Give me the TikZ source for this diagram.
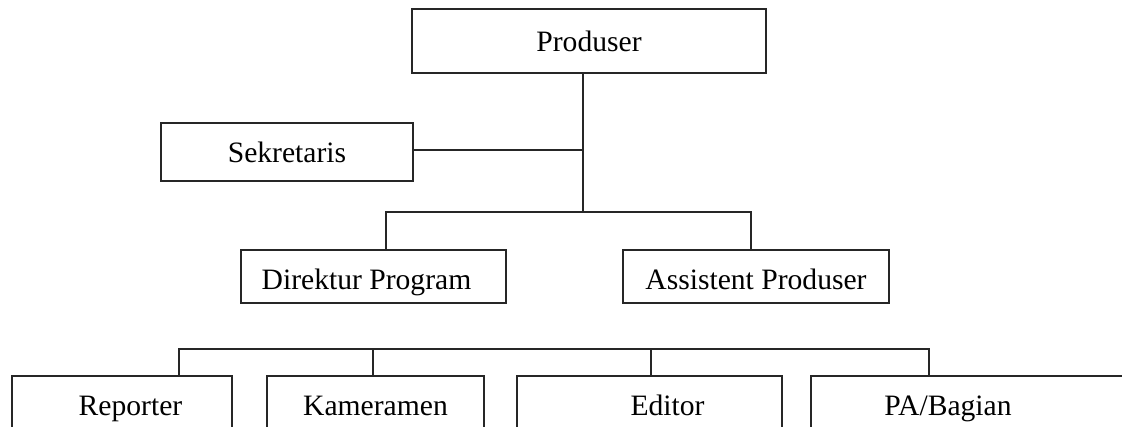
\documentclass[tikz,border=0pt]{standalone}
\usepackage{fontspec}
\setmainfont{Liberation Serif}
\usepackage{tikz}
\usetikzlibrary{calc}

\tikzset{
  jabatan/.style={draw=black!85, line width=0.9pt, inner sep=0pt, align=center, text depth=0pt, text height=#1},
  jabatan/.default=15pt,
  geser/.style={execute at begin node={\hspace*{#1}}},
  garis/.style={draw=black!85, line width=0.9pt}
}

\begin{document}
\begin{tikzpicture}[x=0.75pt, y=-0.75pt, font=\fontsize{22.2}{26}\selectfont]
            \useasboundingbox (0,0) rectangle (1122,426);
            \clip (0,0) rectangle (1122,426);
            \node[jabatan, minimum width=265.5pt, minimum height=48pt] (P) at (589,41) {Produser};
            \node[jabatan=16pt, minimum width=189pt, minimum height=43.5pt] (S) at (287,152) {Sekretaris};
            \node[jabatan=19pt, minimum width=198.75pt, minimum height=39.75pt, geser=-10.5pt] (D) at (373.5,276.5) {Direktur Program};
            \node[jabatan=19pt, minimum width=199.5pt, minimum height=39.75pt] (A) at (756,276.5) {Assistent Produser};
            \node[jabatan=11pt, minimum width=165pt, minimum height=48pt, geser=12.75pt] (R) at (122,408) {Reporter};
            \node[jabatan=11pt, minimum width=162.75pt, minimum height=48pt] (K) at (375.5,408) {Kameramen};
            \node[jabatan=11pt, minimum width=198.75pt, minimum height=48pt, geser=27pt] (E) at (649.5,408) {Editor};
            \node[jabatan=11pt, minimum width=247.5pt, minimum height=48pt, geser=-42pt] (B) at (976,408) {PA/Bagian};
            \coordinate (T1) at (583,150);
            \coordinate (T2) at (583,212);
            \coordinate (DJ) at (386,212);
            \coordinate (AJ) at (751,212);
            \coordinate (RJ) at (179,349);
            \coordinate (KJ) at (373,349);
            \coordinate (EJ) at (651,349);
            \coordinate (BJ) at (929,349);
            \draw[garis] (P.south -| T1) -- (T2);
            \draw[garis] (S.east |- T1) -- (T1);
            \draw[garis] (DJ |- D.north) -- (DJ) -- (AJ) -- (AJ |- A.north);
            \draw[garis] (RJ |- R.north) -- (RJ) -- (BJ) -- (BJ |- B.north);
            \draw[garis] (KJ) -- (KJ |- K.north);
            \draw[garis] (EJ) -- (EJ |- E.north);
        \end{tikzpicture}
\end{document}
